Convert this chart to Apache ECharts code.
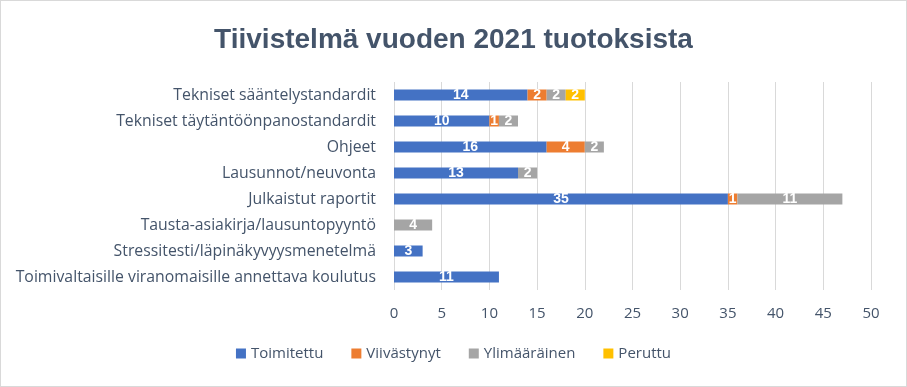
<!DOCTYPE html>
<html><head><meta charset="utf-8">
<script src="https://cdn.jsdelivr.net/npm/echarts@6/dist/echarts.min.js"></script>
<style>html,body{margin:0;padding:0;background:#fff}#c{width:907px;height:387px;box-sizing:border-box;border:1px solid #D9D9D9}</style>
</head><body><div id="c"></div>
<script>
var categories = ["Tekniset sääntelystandardit","Tekniset täytäntöönpanostandardit","Ohjeet","Lausunnot/neuvonta","Julkaistut raportit","Tausta-asiakirja/lausuntopyyntö","Stressitesti/läpinäkyvyysmenetelmä","Toimivaltaisille viranomaisille annettava koulutus"];
var toimitettu = [14,10,16,13,35,0,3,11];
var viivastynyt = [2,1,4,0,1,0,0,0];
var ylimaarainen = [2,2,2,2,11,4,0,0];
var peruttu = [2,0,0,0,0,0,0,0];
var seriesNames = ["Toimitettu","Viivästynyt","Ylimääräinen","Peruttu"];
var colors = ["#4472C4","#ED7D31","#A5A5A5","#FFC000"];
var chart = echarts.init(document.getElementById('c'));
var txt = "'Open Sans','Liberation Sans',Arial,sans-serif";
function mk(name, data, color){
  return {name:name,type:'bar',stack:'s',data:data,barWidth:11,
    itemStyle:{color:color},
    label:{show:true,position:'inside',color:'#fff',fontWeight:'bold',fontSize:14,fontFamily:"'Liberation Sans',Arial,sans-serif",
      formatter:function(p){return p.value?p.value:'';}}};
}
chart.setOption({
  animation:false,
  title:{text:'Tiivistelmä vuoden 2021 tuotoksista',left:'center',top:20,
    textStyle:{color:'#44546A',fontSize:28,fontWeight:'bold',fontFamily:"'Liberation Sans',Arial,sans-serif"}},
  legend:{bottom:20,left:'center',itemWidth:10,itemHeight:10,itemGap:28,icon:'rect',
    textStyle:{color:'#44546A',fontSize:15,fontFamily:txt},data:seriesNames},
  grid:{left:393,right:35,top:81,bottom:96,containLabel:false},
  xAxis:{type:'value',min:0,max:50,interval:5,
    axisLabel:{color:'#44546A',fontSize:15,margin:16,fontFamily:txt},
    splitLine:{lineStyle:{color:'#D9D9D9',width:1}},axisLine:{show:false},axisTick:{show:false}},
  yAxis:{type:'category',data:categories,inverse:true,
    axisLabel:{color:'#44546A',fontSize:15.8,margin:18,fontFamily:txt},
    axisLine:{show:false},axisTick:{show:false}},
  series:[mk(seriesNames[0],toimitettu,colors[0]),mk(seriesNames[1],viivastynyt,colors[1]),mk(seriesNames[2],ylimaarainen,colors[2]),mk(seriesNames[3],peruttu,colors[3])]
});
</script></body></html>
